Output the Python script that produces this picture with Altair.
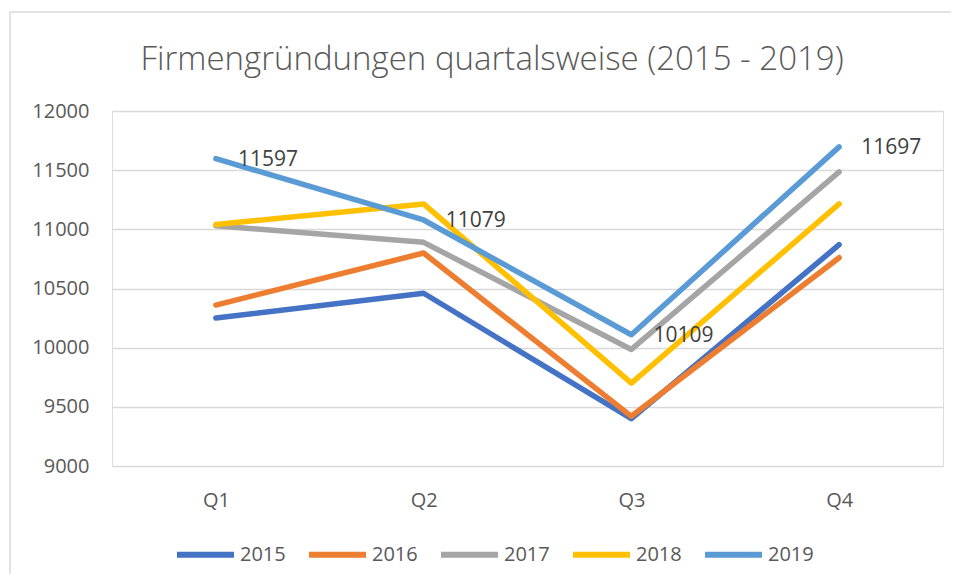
import altair as alt
import pandas as pd

# ---- data ----
title_text = "Firmengründungen quartalsweise (2015 - 2019)"
quarters = ["Q1", "Q2", "Q3", "Q4"]
years = ["2015", "2016", "2017", "2018", "2019"]
v2015 = [10250, 10460, 9400, 10870]
v2016 = [10360, 10800, 9420, 10760]
v2017 = [11030, 10890, 9985, 11485]
v2018 = [11040, 11215, 9700, 11215]
v2019 = [11597, 11079, 10109, 11697]
labelled_year = "2019"
y_ticks = [9000, 9500, 10000, 10500, 11000, 11500, 12000]
colors = ["#4472C4", "#ED7D31", "#A5A5A5", "#FFC000", "#5B9BD5"]

series = [v2015, v2016, v2017, v2018, v2019]
rows = []
for yr, vals in zip(years, series):
    for q, v in zip(quarters, vals):
        rows.append({"Quartal": q, "Jahr": yr, "Wert": v})
df = pd.DataFrame(rows)

FONT = "Open Sans"
W, H = 831, 355

x_enc = alt.X("Quartal:N", sort=quarters,
              scale=alt.Scale(type="point", padding=0.5),
              axis=alt.Axis(title=None, domain=False, ticks=False, grid=False,
                            labelAngle=0, labelFontSize=20, labelColor="#595959",
                            labelFont=FONT, labelPadding=24))
y_enc = alt.Y("Wert:Q", scale=alt.Scale(domain=[9000, 12000], nice=False, zero=False),
              axis=alt.Axis(title=None, domain=False, ticks=False, values=y_ticks,
                            format="d", labelFontSize=20, labelColor="#595959",
                            labelFont=FONT, labelPadding=23,
                            gridColor="#D9D9D9", gridWidth=1.3))

lines = alt.Chart(df).mark_line(strokeWidth=5.5, strokeCap="round", strokeJoin="round").encode(
    x=x_enc,
    y=y_enc,
    color=alt.Color("Jahr:N", sort=years,
                    scale=alt.Scale(domain=years, range=colors),
                    legend=alt.Legend(title=None, orient="none", direction="horizontal",
                                      columns=5, legendX=62, legendY=412,
                                      symbolType="stroke", symbolSize=3249,
                                      symbolStrokeWidth=6, labelFontSize=20,
                                      labelColor="#595959", labelFont=FONT,
                                      labelOffset=3, columnPadding=11, padding=0)),
    order=alt.Order("Jahr:N"),
)

labels = alt.Chart(df).transform_filter(
    alt.datum.Jahr == labelled_year
).mark_text(align="left", baseline="middle", dx=22, dy=1, fontSize=21,
            font=FONT, color="#404040").encode(
    x=alt.X("Quartal:N", sort=quarters, scale=alt.Scale(type="point", padding=0.5)),
    y=alt.Y("Wert:Q", scale=alt.Scale(domain=[9000, 12000], nice=False, zero=False)),
    text=alt.Text("Wert:Q", format="d"),
)

title_df = pd.DataFrame({"t": [title_text]})
title = alt.Chart(title_df).mark_text(align="center", baseline="middle", fontSize=33,
                                      font=FONT, fontWeight=300, color="#595959").encode(
    x=alt.value(380), y=alt.value(-51), text="t:N")

border_top = alt.Chart(title_df).mark_rule(color="#D9D9D9", strokeWidth=1.5).encode(
    x=alt.value(-102), x2=alt.value(860), y=alt.value(-99))
border_left = alt.Chart(title_df).mark_rule(color="#D9D9D9", strokeWidth=1.5).encode(
    x=alt.value(-102), y=alt.value(-99), y2=alt.value(470))

chart = alt.layer(border_top, border_left, title, lines, labels).properties(
    width=W, height=H,
    autosize=alt.AutoSizeParams(type="none"),
    padding={"left": 104, "top": 103, "right": 8, "bottom": 108},
).configure_view(stroke=None).configure(font=FONT, background="white")

chart.save("out.html", embed_options={"renderer": "svg", "actions": False})
